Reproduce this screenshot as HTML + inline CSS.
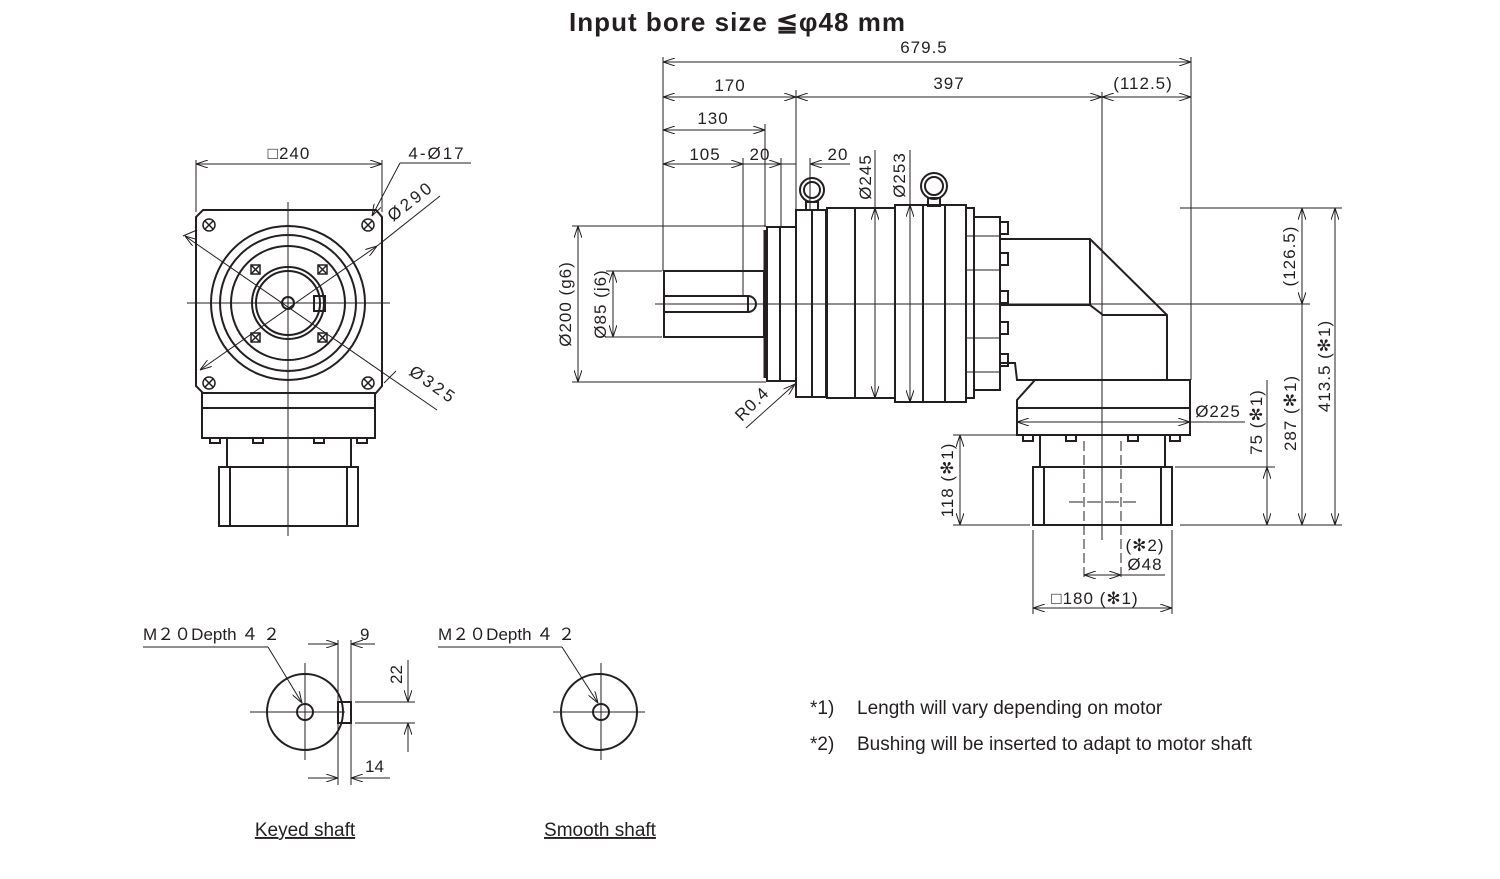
<!DOCTYPE html>
<html><head><meta charset="utf-8"><style>
html,body{margin:0;padding:0;background:#fff;}
svg{display:block;}
text{font-family:"Liberation Sans",sans-serif;fill:#231f20;}
</style></head><body>
<svg width="1500" height="879" viewBox="0 0 1500 879" xmlns="http://www.w3.org/2000/svg">
<defs>
<marker id="a" viewBox="0 0 12 8" refX="12" refY="4" markerWidth="12" markerHeight="8" orient="auto-start-reverse" markerUnits="userSpaceOnUse"><path d="M0,0 L12,4 L0,8" fill="none" stroke="#231f20" stroke-width="1"/></marker>
</defs>
<text x="737" y="31" font-size="26" font-weight="bold" text-anchor="middle" textLength="336" lengthAdjust="spacing">Input bore size  ≦φ48 mm</text>

<!-- ===== LEFT VIEW ===== -->
<g stroke="#231f20" fill="none">
<g stroke-width="2">
<path d="M203,210 L376,210 L382,217 L382,386 L376,393 L203,393 L196,386 L196,217 Z"/>
<circle cx="288" cy="303" r="77"/>
<circle cx="288" cy="303" r="68"/>
<circle cx="288" cy="303" r="57"/>
<circle cx="288" cy="303" r="36"/>
<circle cx="288" cy="303" r="32"/>
<circle cx="288" cy="303" r="6"/>
<rect x="314" y="296" width="11" height="15"/>
<rect x="202" y="393" width="173" height="45"/>
<line x1="202" y1="408" x2="375" y2="408"/>
<line x1="227" y1="438" x2="227" y2="467"/>
<line x1="351" y1="438" x2="351" y2="467"/>
<rect x="219" y="467" width="139" height="59"/>
<line x1="230" y1="467" x2="230" y2="526"/>
<line x1="347" y1="467" x2="347" y2="526"/>
<rect x="210" y="438" width="10" height="5"/><rect x="253" y="438" width="10" height="5"/><rect x="314" y="438" width="10" height="5"/><rect x="357" y="438" width="10" height="5"/>
</g>
<g stroke-width="1.5">
<circle cx="209" cy="225" r="6"/><path d="M205,221 l8,8 M213,221 l-8,8"/>
<circle cx="368" cy="225" r="6"/><path d="M364,221 l8,8 M372,221 l-8,8"/>
<circle cx="209" cy="383" r="6"/><path d="M205,379 l8,8 M213,379 l-8,8"/>
<circle cx="368" cy="383" r="6"/><path d="M364,379 l8,8 M372,379 l-8,8"/>
<rect x="251" y="265" width="9" height="9"/><path d="M251,265 l9,9 M260,265 l-9,9"/>
<rect x="318" y="265" width="9" height="9"/><path d="M318,265 l9,9 M327,265 l-9,9"/>
<rect x="251" y="333" width="9" height="9"/><path d="M251,333 l9,9 M260,333 l-9,9"/>
<rect x="318" y="333" width="9" height="9"/><path d="M318,333 l9,9 M327,333 l-9,9"/>
</g>
<g stroke-width="1">
<line x1="288" y1="202" x2="288" y2="536"/>
<line x1="187" y1="303" x2="390" y2="303"/>
<line x1="196" y1="160" x2="196" y2="212"/>
<line x1="382" y1="160" x2="382" y2="212"/>
<line x1="196" y1="164" x2="382" y2="164" marker-start="url(#a)" marker-end="url(#a)"/>
<line x1="183" y1="236" x2="197" y2="230" />
<line x1="185" y1="236" x2="437" y2="410" marker-start="url(#a)"/>
<line x1="200" y1="370" x2="377" y2="246" marker-start="url(#a)" marker-end="url(#a)"/>
<line x1="377" y1="246" x2="440" y2="196"/>
<line x1="372" y1="216" x2="400" y2="163" marker-start="url(#a)"/>
<line x1="400" y1="163" x2="471" y2="163"/>
<line x1="384" y1="383" x2="396" y2="371"/>
</g>
</g>
<text x="289" y="159" font-size="17" text-anchor="middle" letter-spacing="1">□240</text>
<text x="437" y="159" font-size="17" text-anchor="middle" letter-spacing="2">4-Ø17</text>
<text x="0" y="0" font-size="17" letter-spacing="3" transform="translate(393,222) rotate(-38)">Ø290</text>
<text x="0" y="0" font-size="17" letter-spacing="3" transform="translate(408,374) rotate(35)">Ø325</text>

<!-- ===== MAIN VIEW ===== -->
<g stroke="#231f20" fill="none">
<g stroke-width="2">
<rect x="664" y="271" width="100" height="66"/>
<path d="M664,296 L748,296 A8,8 0 0 1 748,312 L664,312"/>
<line x1="748" y1="296" x2="748" y2="312"/>
<rect x="767" y="227" width="13" height="154"/>
<rect x="780" y="227" width="16" height="154"/>
<line x1="765" y1="230" x2="765" y2="378" stroke-width="3"/>
<rect x="796" y="210" width="16" height="187"/>
<rect x="812" y="210" width="14" height="187"/>
<rect x="827" y="208" width="68" height="190"/>
<line x1="855" y1="208" x2="855" y2="398"/>
<rect x="895" y="205" width="71" height="197"/>
<line x1="923" y1="205" x2="923" y2="402"/>
<line x1="945" y1="205" x2="945" y2="402"/>
<rect x="966" y="208" width="8" height="190"/>
<rect x="974" y="217" width="26" height="173"/>
<path d="M1000,239 L1090,239 L1167,315 L1167,380"/>
<path d="M1090,239 L1090,305 L1103,315 L1167,315"/>
<path d="M1000,305 L1090,305"/>
<path d="M1000,363 L1015,363 L1017,380 L1190,380 L1190,435 L1017,435 L1017,400 L1035,380"/>
<line x1="1017" y1="408" x2="1190" y2="408"/>
<line x1="1040" y1="435" x2="1040" y2="467"/>
<line x1="1165" y1="435" x2="1165" y2="467"/>
<rect x="1033" y="467" width="139" height="58"/>
<line x1="1044" y1="467" x2="1044" y2="525"/>
<line x1="1161" y1="467" x2="1161" y2="525"/>
<rect x="1023" y="435" width="10" height="6"/><rect x="1066" y="435" width="10" height="6"/><rect x="1128" y="435" width="10" height="6"/><rect x="1170" y="435" width="10" height="6"/>
<rect x="1000" y="222" width="8" height="12"/><rect x="1000" y="253" width="8" height="12"/><rect x="1000" y="291" width="8" height="12"/><rect x="1000" y="322" width="8" height="12"/><rect x="1000" y="354" width="8" height="12"/>
<circle cx="812" cy="190" r="12"/><circle cx="812" cy="190" r="8"/>
<rect x="806" y="202" width="12" height="8"/>
<circle cx="934" cy="186" r="13"/><circle cx="934" cy="186" r="9"/>
<rect x="928" y="198" width="12" height="8"/>
</g>
<g stroke-width="1">
<line x1="966" y1="236" x2="1000" y2="236"/><line x1="966" y1="270" x2="1000" y2="270"/><line x1="966" y1="338" x2="1000" y2="338"/><line x1="966" y1="372" x2="1000" y2="372"/>
<line x1="655" y1="304" x2="1310" y2="304"/>
<line x1="1102" y1="92" x2="1102" y2="540"/>
<line x1="1084" y1="441" x2="1084" y2="580" stroke-dasharray="10,4"/>
<line x1="1121" y1="441" x2="1121" y2="580" stroke-dasharray="10,4"/>
<line x1="1069" y1="502" x2="1136" y2="502" stroke-dasharray="14,4"/>
<line x1="663" y1="57" x2="663" y2="271"/>
<line x1="1191" y1="57" x2="1191" y2="380"/>
<line x1="796" y1="90" x2="796" y2="210"/>
<line x1="765" y1="124" x2="765" y2="227"/>
<line x1="743" y1="158" x2="743" y2="296"/>
<line x1="781" y1="158" x2="781" y2="227"/>
<line x1="810" y1="158" x2="810" y2="210"/>
<line x1="663" y1="62" x2="1191" y2="62" marker-start="url(#a)" marker-end="url(#a)"/>
<line x1="663" y1="97" x2="796" y2="97" marker-start="url(#a)" marker-end="url(#a)"/>
<line x1="796" y1="97" x2="1102" y2="97" marker-start="url(#a)" marker-end="url(#a)"/>
<line x1="1102" y1="97" x2="1191" y2="97" marker-start="url(#a)" marker-end="url(#a)"/>
<line x1="663" y1="130" x2="765" y2="130" marker-start="url(#a)" marker-end="url(#a)"/>
<line x1="663" y1="164" x2="743" y2="164" marker-start="url(#a)" marker-end="url(#a)"/>
<line x1="730" y1="164" x2="781" y2="164" marker-end="url(#a)"/>
<line x1="781" y1="164" x2="796" y2="164"/>
<line x1="850" y1="164" x2="810" y2="164" marker-end="url(#a)"/>
<line x1="572" y1="226" x2="766" y2="226"/>
<line x1="572" y1="382" x2="766" y2="382"/>
<line x1="606" y1="271" x2="662" y2="271"/>
<line x1="606" y1="337" x2="662" y2="337"/>
<line x1="578" y1="226" x2="578" y2="382" marker-start="url(#a)" marker-end="url(#a)"/>
<line x1="613" y1="271" x2="613" y2="337" marker-start="url(#a)" marker-end="url(#a)"/>
<line x1="875" y1="150" x2="875" y2="398" marker-end="url(#a)"/>
<line x1="875" y1="208" x2="875" y2="398" marker-start="url(#a)"/>
<line x1="910" y1="150" x2="910" y2="402" marker-end="url(#a)"/>
<line x1="910" y1="205" x2="910" y2="402" marker-start="url(#a)"/>
<line x1="746" y1="428" x2="795" y2="384" marker-end="url(#a)"/>
<line x1="1180" y1="208" x2="1342" y2="208"/>
<line x1="1180" y1="525" x2="1342" y2="525"/>
<line x1="1175" y1="467" x2="1275" y2="467"/>
<line x1="1302" y1="208" x2="1302" y2="304" marker-start="url(#a)" marker-end="url(#a)"/>
<line x1="1302" y1="304" x2="1302" y2="525" marker-end="url(#a)"/>
<line x1="1335" y1="208" x2="1335" y2="525" marker-start="url(#a)" marker-end="url(#a)"/>
<line x1="1267" y1="380" x2="1267" y2="467"/>
<line x1="1267" y1="467" x2="1267" y2="525" marker-start="url(#a)" marker-end="url(#a)"/>
<line x1="1017" y1="422" x2="1190" y2="422" marker-start="url(#a)" marker-end="url(#a)"/>
<line x1="1190" y1="422" x2="1245" y2="422"/>
<line x1="953" y1="435" x2="1017" y2="435"/>
<line x1="953" y1="525" x2="1030" y2="525"/>
<line x1="960" y1="435" x2="960" y2="525" marker-start="url(#a)" marker-end="url(#a)"/>
<line x1="1033" y1="530" x2="1033" y2="614"/>
<line x1="1172" y1="530" x2="1172" y2="614"/>
<line x1="1084" y1="575" x2="1121" y2="575" marker-start="url(#a)" marker-end="url(#a)"/>
<line x1="1121" y1="575" x2="1165" y2="575"/>
<line x1="1033" y1="608" x2="1172" y2="608" marker-start="url(#a)" marker-end="url(#a)"/>
</g>
</g>
<g font-size="17" text-anchor="middle" letter-spacing="1">
<text x="924" y="53">679.5</text>
<text x="730" y="91">170</text>
<text x="949" y="89">397</text>
<text x="1143" y="89">(112.5)</text>
<text x="713" y="124">130</text>
<text x="705" y="160">105</text>
<text x="760" y="160">20</text>
<text x="838" y="160">20</text>
<text x="1218" y="417">Ø225</text>
<text x="1145" y="551">(✻2)</text>
<text x="1145" y="570">Ø48</text>
<text x="1095" y="604">□180 (✻1)</text>
</g>
<g font-size="17" text-anchor="middle" letter-spacing="1">
<text transform="translate(571,304) rotate(-90)">Ø200 (g6)</text>
<text transform="translate(606,304) rotate(-90)">Ø85 (j6)</text>
<text transform="translate(871,177) rotate(-90)">Ø245</text>
<text transform="translate(905,175) rotate(-90)">Ø253</text>
<text transform="translate(1295,256) rotate(-90)">(126.5)</text>
<text transform="translate(1330,366) rotate(-90)">413.5 (✻1)</text>
<text transform="translate(1296,413) rotate(-90)">287 (✻1)</text>
<text transform="translate(1262,422) rotate(-90)">75 (✻1)</text>
<text transform="translate(953,480) rotate(-90)">118 (✻1)</text>
<text transform="translate(756,408) rotate(-45)">R0.4</text>
</g>

<!-- ===== SHAFT VIEWS ===== -->
<g stroke="#231f20" fill="none">
<g stroke-width="2">
<circle cx="305" cy="712" r="38"/>
<circle cx="305" cy="712" r="8"/>
<rect x="338" y="702" width="13" height="21"/>
<circle cx="599" cy="712" r="38"/>
<circle cx="601" cy="712" r="8"/>
</g>
<g stroke-width="1">
<line x1="305" y1="663" x2="305" y2="760"/><line x1="250" y1="712" x2="345" y2="712"/>
<line x1="601" y1="663" x2="601" y2="760"/><line x1="553" y1="712" x2="645" y2="712"/>
<line x1="143" y1="647" x2="268" y2="647"/><line x1="268" y1="647" x2="302" y2="703" marker-end="url(#a)"/>
<line x1="438" y1="647" x2="562" y2="647"/><line x1="562" y1="647" x2="598" y2="703" marker-end="url(#a)"/>
<line x1="338" y1="640" x2="338" y2="785"/>
<line x1="351" y1="640" x2="351" y2="785"/>
<line x1="308" y1="644" x2="338" y2="644" marker-end="url(#a)"/>
<line x1="375" y1="644" x2="351" y2="644" marker-end="url(#a)"/>
<line x1="308" y1="778" x2="338" y2="778" marker-end="url(#a)"/>
<line x1="390" y1="778" x2="351" y2="778" marker-end="url(#a)"/>
<line x1="355" y1="702" x2="415" y2="702"/>
<line x1="355" y1="723" x2="415" y2="723"/>
<line x1="408" y1="660" x2="408" y2="702" marker-end="url(#a)"/>
<line x1="408" y1="752" x2="408" y2="723" marker-end="url(#a)"/>
</g>
</g>
<g font-size="17">
<text x="143" y="640">M２０Depth ４ ２</text>
<text x="438" y="640">M２０Depth ４ ２</text>
<text x="360" y="640">9</text>
<text x="365" y="772">14</text>
<text transform="translate(402,684) rotate(-90)">22</text>
</g>
<g font-size="19">
<text x="810" y="714">*1)</text><text x="857" y="714">Length will vary depending on motor</text>
<text x="810" y="750">*2)</text><text x="857" y="750">Bushing will be inserted to adapt to motor shaft</text>
<text x="305" y="836" text-anchor="middle" text-decoration="underline">Keyed shaft</text>
<text x="600" y="836" text-anchor="middle" text-decoration="underline">Smooth shaft</text>
</g>
</svg>
</body></html>
